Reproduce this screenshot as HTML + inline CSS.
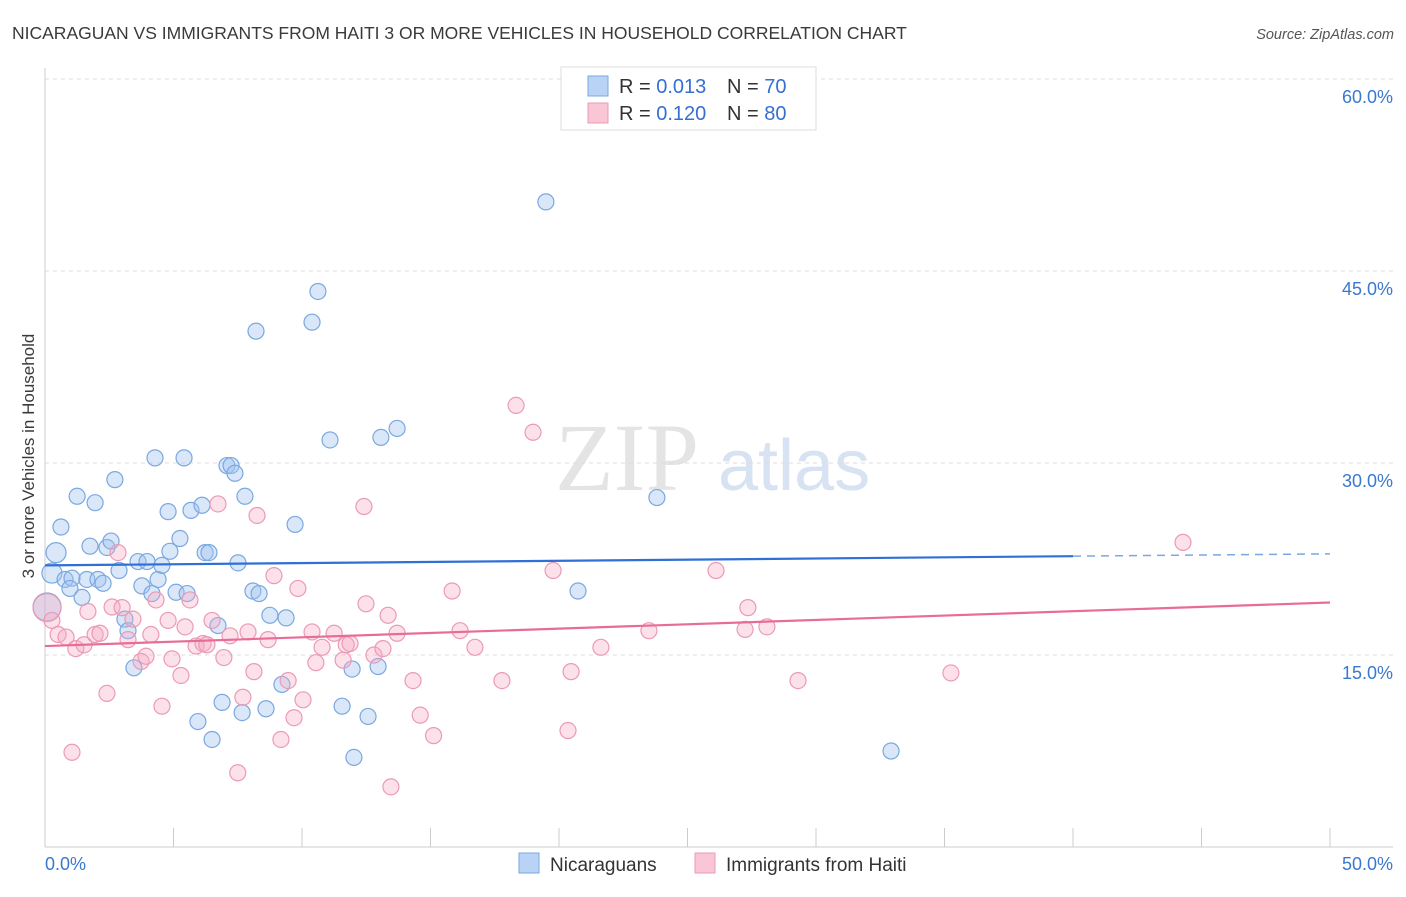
<!DOCTYPE html>
<html><head><meta charset="utf-8"><style>
body{margin:0;background:#fff;font-family:"Liberation Sans",sans-serif}
</style></head><body>
<svg id="chart" width="1406" height="892" xmlns="http://www.w3.org/2000/svg" font-family="Liberation Sans, sans-serif">
<text x="12" y="39" font-size="17.5" fill="#3a3a3a">NICARAGUAN VS IMMIGRANTS FROM HAITI 3 OR MORE VEHICLES IN HOUSEHOLD CORRELATION CHART</text>
<text x="1394" y="39" font-size="14.5" fill="#555" font-style="italic" text-anchor="end">Source: ZipAtlas.com</text>
<text x="555" y="490" font-size="96" fill="#e4e4e4" font-family="Liberation Serif, serif">ZIP</text>
<text x="718" y="490" font-size="72" fill="#d7e3f2">atlas</text>
<text transform="translate(34,456) rotate(-90)" font-size="17" fill="#3a3a3a" text-anchor="middle">3 or more Vehicles in Household</text>
<g id="grid"></g><g id="pts"></g><g id="lines"></g>
<g>
<rect x="561" y="67" width="255" height="63" fill="#fff" stroke="#ddd"/>
<rect x="588" y="76" width="20" height="20" fill="#b8d3f5" stroke="#7aa8e0"/>
<rect x="588" y="103" width="20" height="20" fill="#f9c6d6" stroke="#eb9ab5"/>
<text x="619" y="93" font-size="20" fill="#333">R = <tspan fill="#3570d0">0.013</tspan><tspan x="727">N = </tspan><tspan fill="#3570d0">70</tspan></text>
<text x="619" y="120" font-size="20" fill="#333">R = <tspan fill="#3570d0">0.120</tspan><tspan x="727">N = </tspan><tspan fill="#3570d0">80</tspan></text>
</g>
<g>
<rect x="519" y="853" width="20" height="20" fill="#b8d3f5" stroke="#7aa8e0"/>
<text x="550" y="871" font-size="19" fill="#333">Nicaraguans</text>
<rect x="695" y="853" width="20" height="20" fill="#f9c6d6" stroke="#eb9ab5"/>
<text x="726" y="871" font-size="19" fill="#333">Immigrants from Haiti</text>
</g>
</svg>
<script>
const yTicks=[15,30,45,60];
const xTickLabels=["0.0%","50.0%"];
const blueX=[0.43,0.27,0.08,0.62,1.25,1.95,2.72,0.78,1.05,0.97,1.44,1.63,1.75,2.06,2.26,2.41,2.57,2.88,3.11,3.23,3.46,3.62,3.77,3.97,4.16,4.28,4.40,4.55,4.79,4.86,5.10,5.25,5.41,5.53,5.68,5.95,6.11,6.23,6.38,6.50,6.73,6.89,7.08,7.24,7.39,7.51,7.67,7.78,8.09,8.21,8.33,8.60,8.75,9.22,9.38,9.73,10.39,10.62,11.09,11.56,11.95,12.02,12.57,12.96,13.07,13.70,19.49,20.74,23.81,32.92];
const blueY=[23.0,21.4,18.75,25.0,27.4,26.9,28.7,20.9,21.0,20.2,19.5,20.9,23.5,20.9,20.6,23.4,23.9,21.6,17.8,16.9,14.0,22.3,20.4,22.3,19.8,30.4,20.9,22.0,26.2,23.1,19.9,24.1,30.4,19.8,26.3,9.8,26.7,23.0,23.0,8.4,17.3,11.3,29.8,29.8,29.2,22.2,10.5,27.4,20.0,40.3,19.8,10.8,18.1,12.7,17.9,25.2,41.0,43.4,31.8,11.0,13.9,7.0,10.2,14.1,32.0,32.7,50.4,20.0,27.3,7.5];
const pinkX=[0.08,0.27,0.51,0.82,1.05,1.2,1.52,1.67,1.95,2.14,2.41,2.61,2.84,3.0,3.23,3.42,3.74,3.93,4.12,4.32,4.55,4.79,4.94,5.29,5.45,5.64,5.88,6.15,6.3,6.5,6.73,6.96,7.2,7.5,7.7,7.9,8.13,8.25,8.68,8.91,9.18,9.46,9.69,9.84,10.04,10.39,10.54,10.78,11.25,11.6,11.72,11.87,12.41,12.49,12.8,13.15,13.35,13.46,13.7,14.32,14.6,15.12,15.84,16.15,16.73,17.78,18.33,18.99,19.77,20.35,20.47,21.63,23.5,26.11,27.24,27.35,28.09,29.3,35.25,44.28];
const pinkY=[18.7,17.7,16.6,16.4,7.4,15.5,15.8,18.4,16.6,16.7,12.0,18.75,23.0,18.7,16.2,17.8,14.5,14.9,16.6,19.3,11.0,17.7,14.7,13.4,17.2,19.3,15.7,15.9,15.8,17.7,26.8,14.8,16.5,5.8,11.7,16.8,13.7,25.9,16.2,21.2,8.4,13.0,10.1,20.2,11.5,16.8,14.4,15.6,16.7,14.6,15.8,15.9,26.6,19.0,15.0,15.5,18.1,4.7,16.7,13.0,10.3,8.7,20.0,16.9,15.6,13.0,34.5,32.4,21.6,9.1,13.7,15.6,16.9,21.6,17.0,18.7,17.2,13.0,13.6,23.8];
const blueTrend=[22.0,22.9];
const pinkTrend=[15.7,19.1];
const NS="http://www.w3.org/2000/svg";
const X=v=>45+v*25.7, Y=v=>847-v*12.8;
function mk(t,a,p){const e=document.createElementNS(NS,t);for(const k in a)e.setAttribute(k,a[k]);p.appendChild(e);return e;}
const g=document.getElementById('grid');
const ax=mk('line',{x1:45,y1:68,x2:45,y2:847,stroke:'#ccc'},g);


const bx=mk('line',{x1:45,y1:847,x2:1393,y2:847,stroke:'#ccc'},g);


yTicks.forEach(t=>{
 const l=mk('line',{x1:45,y1:Y(t),x2:1393,y2:Y(t),stroke:'#ddd','stroke-dasharray':'4,4'},g);
 
 
 const tx=mk('text',{x:1393,y:Y(t)+24,'font-size':18,fill:'#3a78d0','text-anchor':'end'},g);
 tx.textContent=t.toFixed(1)+'%';
 
 
});
for(let i=0;i<=10;i++){
 const l=mk('line',{x1:X(i*5),y1:828,x2:X(i*5),y2:847,stroke:'#ccc'},g);
 
 
}
const x0=mk('text',{x:45,y:870,'font-size':18,fill:'#3a78d0'},g);x0.textContent=xTickLabels[0];


const x1=mk('text',{x:1393,y:870,'font-size':18,fill:'#3a78d0','text-anchor':'end'},g);x1.textContent=xTickLabels[1];


const p=document.getElementById('pts');
blueX.forEach((x,i)=>{
 const c=mk('circle',{cx:X(x),cy:Y(blueY[i]),r:i<3?(i==2?14:10):8,fill:'rgba(160,195,240,0.4)',stroke:'#7aa8e0','stroke-width':1.2},p);
 
 
});
pinkX.forEach((x,i)=>{
 const c=mk('circle',{cx:X(x),cy:Y(pinkY[i]),r:i==0?14:8,fill:'rgba(245,170,195,0.35)',stroke:'#eb9ab5','stroke-width':1.2},p);
 
 
});
const L=document.getElementById('lines');
const bAt=x=>blueTrend[0]+(blueTrend[1]-blueTrend[0])*x/50;
const b1=mk('line',{x1:X(0),y1:Y(bAt(0)),x2:X(40),y2:Y(bAt(40)),stroke:'#2f6fd6','stroke-width':2.2},L);


const b2=mk('line',{x1:X(40),y1:Y(bAt(40)),x2:X(50),y2:Y(bAt(50)),stroke:'#7aa8e0','stroke-width':1.5,'stroke-dasharray':'8,6'},L);


const pl=mk('line',{x1:X(0),y1:Y(pinkTrend[0]),x2:X(50),y2:Y(pinkTrend[1]),stroke:'#e86c98','stroke-width':2.2},L);


</script>
</body></html>
